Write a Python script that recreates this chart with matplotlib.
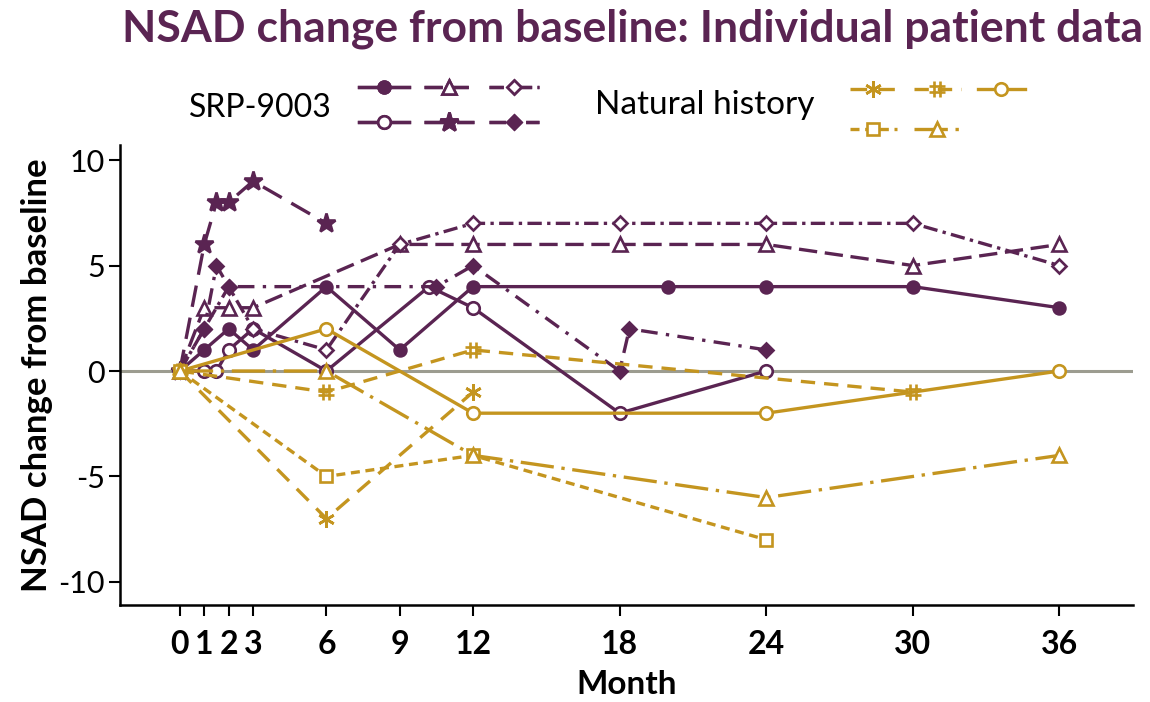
import matplotlib
matplotlib.use("Agg")
import matplotlib.pyplot as plt
from matplotlib.path import Path

plt.rcParams['font.family'] = ['Lato', 'DejaVu Sans']

PURPLE = '#5a2452'
GOLD = '#c4951f'
GREY = '#9c9c90'

month_ticks = [0, 1, 2, 3, 6, 9, 12, 18, 24, 30, 36]
value_ticks = [-10, -5, 0, 5, 10]

# SRP-9003 treated patients
srp_a_months = [0, 1, 2, 3, 6, 9, 12, 20, 24, 30, 36]
srp_a_values = [0, 1, 2, 1, 4, 1, 4, 4, 4, 4, 3]
srp_b_months = [0, 1, 1.5, 2, 3, 6, 10.2, 12, 18, 24]
srp_b_values = [0, 0, 0, 1, 2, 0, 4, 3, -2, 0]
srp_c_months = [0, 1, 2, 3, 9, 12, 18, 24, 30, 36]
srp_c_values = [0, 3, 3, 3, 6, 6, 6, 6, 5, 6]
srp_d_months = [0, 1, 1.5, 2, 3, 6]
srp_d_values = [0, 6, 8, 8, 9, 7]
srp_e_months = [0, 1, 2, 3, 6, 9, 12, 18, 24, 30, 36]
srp_e_values = [0, 2, 4, 2, 1, 6, 7, 7, 7, 7, 5]
srp_f_months = [0, 1, 1.5, 2, 10.5, 12, 18, 18.4, 24]
srp_f_values = [0, 2, 5, 4, 4, 5, 0, 2, 1]

# Natural history patients
nh_a_months = [0, 6, 12]
nh_a_values = [0, -7, -1]
nh_b_months = [0, 6, 12, 30]
nh_b_values = [0, -1, 1, -1]
nh_c_months = [0, 6, 12, 24, 36]
nh_c_values = [0, 2, -2, -2, 0]
nh_d_months = [0, 6, 12, 24]
nh_d_values = [0, -5, -4, -8]
nh_e_months = [0, 6, 12, 24, 36]
nh_e_values = [0, 0, -4, -6, -4]

# '#' marker built from four strokes
M, L = Path.MOVETO, Path.LINETO
hash_marker = Path(
    [(-0.35, -1), (-0.35, 1), (0.35, -1), (0.35, 1),
     (-1, -0.35), (1, -0.35), (-1, 0.35), (1, 0.35)],
    [M, L, M, L, M, L, M, L])

LW = 2.4
srp_styles = [
    dict(ls='-', marker='o', mfc=PURPLE, ms=8.5),
    dict(ls='-', marker='o', mfc='white', ms=9),
    dict(ls=(0, (5.5, 2.3)), marker='^', mfc='white', ms=10),
    dict(ls=(0, (6.5, 3.3)), marker='*', mfc=PURPLE, ms=14),
    dict(ls=(0, (4.3, 1.6, 1, 1.6)), marker='D', mfc='white', ms=7.5),
    dict(ls=(0, (5, 2.5, 1, 2.5)), marker='D', mfc=PURPLE, ms=7.5),
]
nh_styles = [
    dict(ls=(0, (5, 3.3)), marker=(6, 2, 0), mfc='none', ms=12),
    dict(ls=(0, (4.3, 2.7)), marker=hash_marker, mfc='none', ms=11),
    dict(ls='-', marker='o', mfc='white', ms=9),
    dict(ls=(0, (2.7, 1.7)), marker='s', mfc='white', ms=8.5),
    dict(ls=(0, (10, 2.3, 1, 2.3)), marker='^', mfc='white', ms=10),
]

srp_series = [(srp_a_months, srp_a_values), (srp_b_months, srp_b_values),
              (srp_c_months, srp_c_values), (srp_d_months, srp_d_values),
              (srp_e_months, srp_e_values), (srp_f_months, srp_f_values)]
nh_series = [(nh_a_months, nh_a_values), (nh_b_months, nh_b_values),
             (nh_c_months, nh_c_values), (nh_d_months, nh_d_values),
             (nh_e_months, nh_e_values)]

fig = plt.figure(figsize=(11.5, 7.02), dpi=100)
ax = fig.add_axes([0.1043, 0.138, 0.8807, 0.655])

ax.axhline(0, color=GREY, lw=2.2, zorder=1)

srp_handles = []
for (mx, vy), st in zip(srp_series, srp_styles):
    ln, = ax.plot(mx, vy, color=PURPLE, lw=LW, ls=st['ls'], marker=st['marker'],
                  ms=st['ms'], mfc=st['mfc'], mec=PURPLE, mew=1.9, zorder=3)
    srp_handles.append(ln)

nh_handles = []
for (mx, vy), st in zip(nh_series, nh_styles):
    ln, = ax.plot(mx, vy, color=GOLD, lw=LW, ls=st['ls'], marker=st['marker'],
                  ms=st['ms'], mfc=st['mfc'], mec=GOLD, mew=1.9, zorder=4)
    nh_handles.append(ln)

ax.set_xlim(-2.45, 39.0)
ax.set_ylim(-11.1, 10.7)
ax.set_xticks(month_ticks)
ax.set_xticklabels([str(m) for m in month_ticks], fontweight='bold', fontsize=23)
ax.set_yticks(value_ticks)
ax.set_yticklabels([str(v) for v in value_ticks], fontsize=22)
ax.tick_params(axis='x', length=8, width=1.5, pad=10, direction='out')
ax.tick_params(axis='y', length=8, width=1.5, pad=3, direction='out')
for side in ('top', 'right'):
    ax.spines[side].set_visible(False)
for side in ('left', 'bottom'):
    ax.spines[side].set_linewidth(1.8)

ax.set_xlabel('Month', fontweight='bold', fontsize=24, labelpad=8)
ax.set_ylabel('NSAD change from baseline', fontweight='bold', fontsize=25, labelpad=4)

fig.suptitle('NSAD change from baseline: Individual patient data', x=0.55, y=0.988,
             fontsize=32, fontweight='bold', color=PURPLE)

# group legends: SRP-9003 and natural history (column-major order)
leg1 = fig.legend(srp_handles, [''] * 6, ncol=3,
                  loc='upper left', bbox_to_anchor=(0.312, 0.884),
                  bbox_transform=fig.transFigure, frameon=False, fontsize=10,
                  handlelength=3.6, handletextpad=0, columnspacing=1.1,
                  borderpad=0, borderaxespad=0, labelspacing=1.7)
nh_order = [0, 3, 1, 4, 2]
leg2 = fig.legend([nh_handles[i] for i in nh_order], [''] * 5, ncol=3,
                  loc='upper left', bbox_to_anchor=(0.739, 0.881),
                  bbox_transform=fig.transFigure, frameon=False, fontsize=10,
                  handlelength=3.4, handletextpad=0, columnspacing=1.2,
                  borderpad=0, borderaxespad=0, labelspacing=2.05)
fig.add_artist(leg1)

fig.text(260 / 1150, 1 - 108 / 702, 'SRP-9003', ha='center', va='center', fontsize=23)
fig.text(705 / 1150, 1 - 105 / 702, 'Natural history', ha='center', va='center', fontsize=24)

fig.savefig('out.png', dpi=100)
